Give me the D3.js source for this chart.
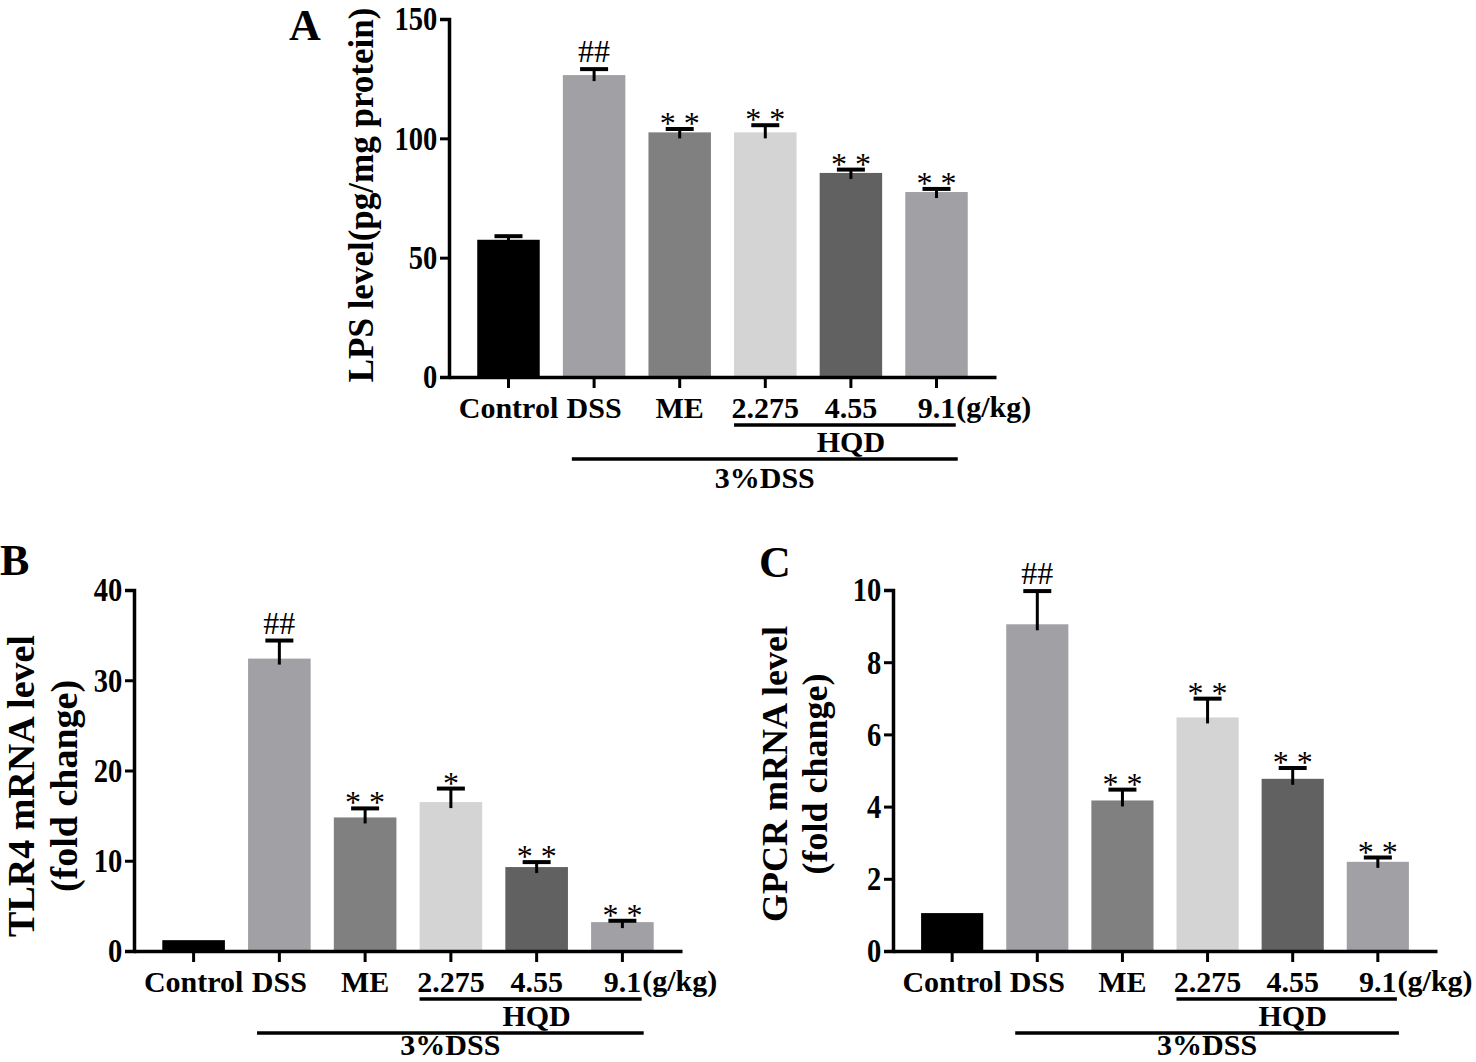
<!DOCTYPE html>
<html>
<head>
<meta charset="utf-8">
<script src="https://cdn.jsdelivr.net/npm/d3@7"></script>
<style>
  body { margin: 0; background: #fff; }
  svg { display: block; font-family: "Liberation Serif", "Times New Roman", serif; }
</style>
</head>
<body>
<svg id="fig" width="1476" height="1062"></svg>
<script>
// groups on the x axis (same for the three panels)
var groups = ["Control", "DSS", "ME", "2.275", "4.55", "9.1"];
var barColors = ["#000000", "#a1a0a5", "#808080", "#d4d4d4", "#616161", "#a1a0a5"];

// panel A : LPS
var lpsMean = [57.5, 126.5, 102.5, 102.5, 85.5, 77.5];
var lpsErr = [1.5, 2.5, 1.4, 3.0, 1.4, 1.3];
var lpsMarks = ["", "##", "* *", "* *", "* *", "* *"];
var lpsTicks = [0, 50, 100, 150];

// panel B : TLR4
var tlr4Mean = [1.2, 32.4, 14.8, 16.5, 9.3, 3.2];
var tlr4Err = [0, 2.0, 1.0, 1.5, 0.55, 0.15];
var tlr4Marks = ["", "##", "* *", "*", "* *", "* *"];
var tlr4Ticks = [0, 10, 20, 30, 40];

// panel C : GPCR
var gpcrMean = [1.05, 9.05, 4.17, 6.47, 4.77, 2.47];
var gpcrErr = [0, 0.92, 0.3, 0.52, 0.3, 0.12];
var gpcrMarks = ["", "##", "* *", "* *", "* *", "* *"];
var gpcrTicks = [0, 2, 4, 6, 8, 10];

var svg = d3.select("#fig");

function drawPanel(p) {
    var g = svg.append("g");

    var x = d3.scaleBand()
        .domain(groups)
        .range([p.x0, p.x1])
        .paddingInner(0.27)
        .paddingOuter(0.33);
    var y = d3.scaleLinear()
        .domain([0, p.max])
        .range([p.y0, p.y1]);
    var bw = x.bandwidth();

    // bars
    g.selectAll(".bar")
        .data(p.mean)
        .enter().append("rect")
        .attr("x", function(d, i) { return x(groups[i]); })
        .attr("y", function(d) { return y(d); })
        .attr("width", bw)
        .attr("height", function(d) { return y(0) - y(d); })
        .attr("fill", function(d, i) { return barColors[i]; });

    // error bars (upper only), skipped when too small to see
    var ebData = p.mean.map(function(d, i) { return {i: i, m: d, e: p.err[i]}; })
        .filter(function(d) { return d.e > 0; });
    var eb = g.selectAll(".err")
        .data(ebData)
        .enter().append("g");
    eb.append("line")
        .attr("x1", function(d) { return x(groups[d.i]) + bw / 2; })
        .attr("x2", function(d) { return x(groups[d.i]) + bw / 2; })
        .attr("y1", function(d) { return y(d.m) + 6; })
        .attr("y2", function(d) { return y(d.m + d.e); })
        .attr("stroke", "#000")
        .attr("stroke-width", 3);
    eb.append("line")
        .attr("x1", function(d) { return x(groups[d.i]) + bw / 2 - 14; })
        .attr("x2", function(d) { return x(groups[d.i]) + bw / 2 + 14; })
        .attr("y1", function(d) { return y(d.m + d.e); })
        .attr("y2", function(d) { return y(d.m + d.e); })
        .attr("stroke", "#000")
        .attr("stroke-width", 4);

    // significance marks
    g.selectAll(".mark")
        .data(p.marks)
        .enter().append("text")
        .attr("x", function(d, i) { return x(groups[i]) + bw / 2; })
        .attr("y", function(d, i) {
            var top = y(p.mean[i] + p.err[i]) - 2;
            return d.indexOf("#") >= 0 ? top - 5 : top + 7;
        })
        .attr("text-anchor", "middle")
        .attr("font-size", function(d) { return d.indexOf("#") >= 0 ? 32 : 32; })
        .attr("fill", "#000")
        .text(function(d) { return d; });

    // y axis
    var yAxis = d3.axisLeft(y)
        .tickValues(p.ticks)
        .tickSize(9)
        .tickPadding(3);
    var ya = g.append("g")
        .attr("transform", "translate(" + p.x0 + ",0)")
        .call(yAxis);
    ya.select(".domain").attr("stroke-width", 3.5);
    ya.selectAll(".tick line").attr("stroke-width", 3);
    // digits in the figure are narrow: squeeze horizontally
    ya.selectAll(".tick text")
        .attr("font-size", 34)
        .attr("font-weight", "bold")
        .attr("font-family", "Liberation Serif")
        .attr("fill", "#000")
        .attr("x", -14)
        .attr("transform", "scale(0.84,1)");

    // x axis
    var xAxis = d3.axisBottom(x)
        .tickSize(11)
        .tickSizeOuter(0)
        .tickPadding(9);
    var xa = g.append("g")
        .attr("transform", "translate(0," + p.y0 + ")")
        .call(xAxis);
    xa.select(".domain").attr("stroke-width", 3.5);
    xa.selectAll(".tick line").attr("stroke-width", 3);
    xa.selectAll(".tick text")
        .attr("font-size", 30)
        .attr("font-weight", "bold")
        .attr("font-family", "Liberation Serif")
        .attr("fill", "#000");

    var cLast = x("9.1") + bw / 2;
    var lastW = xa.selectAll(".tick text").nodes()[5].getComputedTextLength();
    g.append("text")
        .attr("x", cLast + lastW / 2 + 1)
        .attr("y", p.y0 + 40)
        .attr("font-size", 30)
        .attr("font-weight", "bold")
        .text("(g/kg)");

    // HQD underline and label
    g.append("line")
        .attr("x1", x("2.275"))
        .attr("x2", x("9.1") + bw - 12)
        .attr("y1", p.y0 + 48)
        .attr("y2", p.y0 + 48)
        .attr("stroke", "#000")
        .attr("stroke-width", 3.5);
    g.append("text")
        .attr("x", x("4.55") + bw / 2)
        .attr("y", p.y0 + 75)
        .attr("text-anchor", "middle")
        .attr("font-size", 30)
        .attr("font-weight", "bold")
        .text("HQD");

    // 3%DSS line and label
    var lx1 = x("DSS") + 9, lx2 = x("9.1") + bw - 10;
    g.append("line")
        .attr("x1", lx1)
        .attr("x2", lx2)
        .attr("y1", p.y0 + 82)
        .attr("y2", p.y0 + 82)
        .attr("stroke", "#000")
        .attr("stroke-width", 3.5);
    g.append("text")
        .attr("x", (lx1 + lx2) / 2)
        .attr("y", Math.min(p.y0 + 111, 1055))
        .attr("text-anchor", "middle")
        .attr("font-size", 30)
        .attr("font-weight", "bold")
        .text("3%DSS");

    // y title
    var gap = p.tsize * 1.12;
    var tl = g.append("text")
        .attr("transform", "translate(" + (p.tx + (p.title.length - 1) * gap) + "," + p.ty + ") rotate(-90)")
        .attr("text-anchor", "middle")
        .attr("font-size", p.tsize)
        .attr("font-weight", "bold");
    p.title.forEach(function(s, i) {
        tl.append("tspan")
            .attr("x", 0)
            .attr("dy", i == 0 ? (-(p.title.length - 1) * gap) : gap)
            .text(s);
    });

    // panel letter
    g.append("text")
        .attr("x", p.lx)
        .attr("y", p.ly)
        .attr("font-size", 44)
        .attr("font-weight", "bold")
        .text(p.letter);
}

drawPanel({
    mean: lpsMean, err: lpsErr, marks: lpsMarks, ticks: lpsTicks, max: 150,
    x0: 449, x1: 996, y0: 377, y1: 19,
    title: ["LPS level(pg/mg protein)"], tx: 373, ty: 195, tsize: 35,
    letter: "A", lx: 289, ly: 40
});
drawPanel({
    mean: tlr4Mean, err: tlr4Err, marks: tlr4Marks, ticks: tlr4Ticks, max: 40,
    x0: 134, x1: 682, y0: 951, y1: 590,
    title: ["TLR4 mRNA level", "(fold change)"], tx: 34, ty: 786, tsize: 38,
    letter: "B", lx: 0, ly: 575
});
drawPanel({
    mean: gpcrMean, err: gpcrErr, marks: gpcrMarks, ticks: gpcrTicks, max: 10,
    x0: 893, x1: 1437, y0: 951, y1: 590,
    title: ["GPCR mRNA level", "(fold change)"], tx: 787, ty: 774, tsize: 36,
    letter: "C", lx: 759, ly: 577
});
</script>
</body>
</html>
